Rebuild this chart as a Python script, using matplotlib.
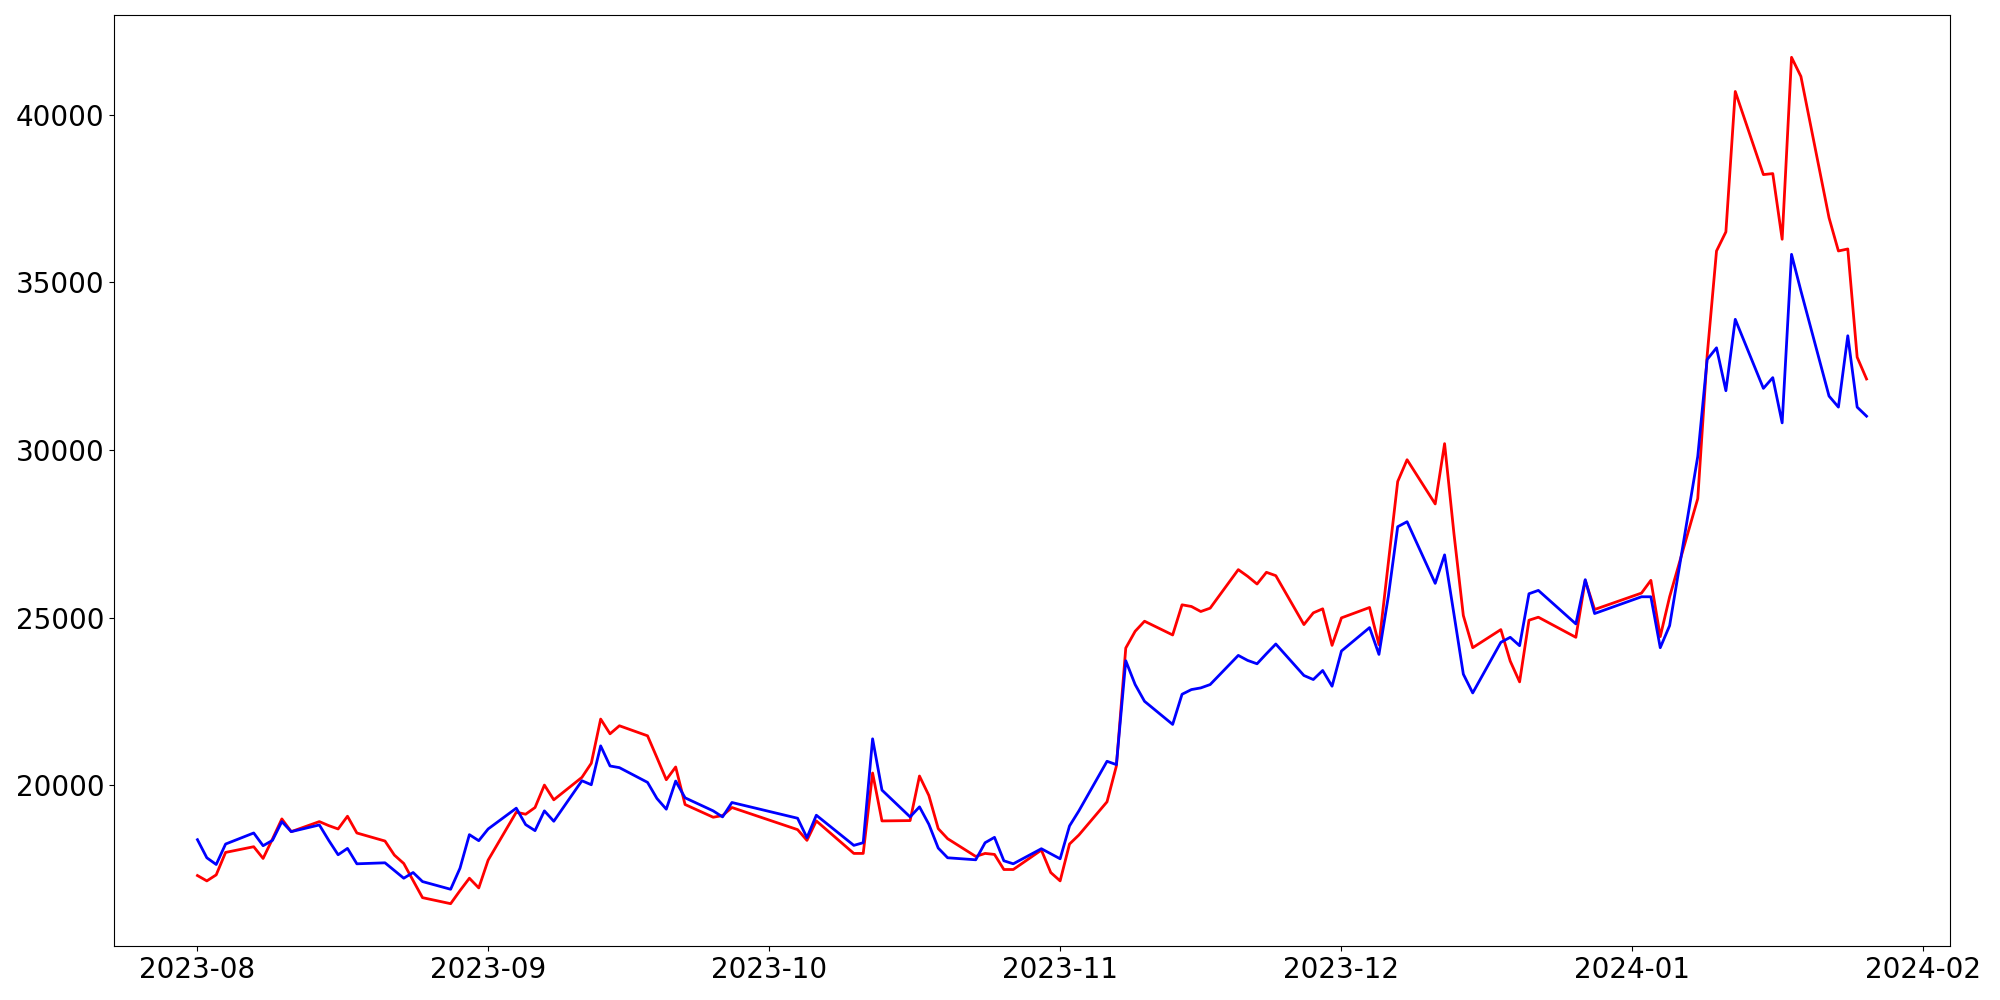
import matplotlib
matplotlib.use('Agg')
import matplotlib.pyplot as plt
import pandas as pd

# weekdays with data, same dates for both series
dates = [
    '2023-08-01', '2023-08-02', '2023-08-03', '2023-08-04',
    '2023-08-07', '2023-08-08', '2023-08-09', '2023-08-10', '2023-08-11',
    '2023-08-14', '2023-08-15', '2023-08-16', '2023-08-17', '2023-08-18',
    '2023-08-21', '2023-08-22', '2023-08-23', '2023-08-24', '2023-08-25',
    '2023-08-28', '2023-08-29', '2023-08-30', '2023-08-31', '2023-09-01',
    '2023-09-04', '2023-09-05', '2023-09-06', '2023-09-07', '2023-09-08',
    '2023-09-11', '2023-09-12', '2023-09-13', '2023-09-14', '2023-09-15',
    '2023-09-18', '2023-09-19', '2023-09-20', '2023-09-21', '2023-09-22',
    '2023-09-25', '2023-09-26', '2023-09-27',
    '2023-10-04', '2023-10-05', '2023-10-06',
    '2023-10-10', '2023-10-11', '2023-10-12', '2023-10-13',
    '2023-10-16', '2023-10-17', '2023-10-18', '2023-10-19', '2023-10-20',
    '2023-10-23', '2023-10-24', '2023-10-25', '2023-10-26', '2023-10-27',
    '2023-10-30', '2023-10-31', '2023-11-01', '2023-11-02', '2023-11-03',
    '2023-11-06', '2023-11-07', '2023-11-08', '2023-11-09', '2023-11-10',
    '2023-11-13', '2023-11-14', '2023-11-15', '2023-11-16', '2023-11-17',
    '2023-11-20', '2023-11-21', '2023-11-22', '2023-11-23', '2023-11-24',
    '2023-11-27', '2023-11-28', '2023-11-29', '2023-11-30', '2023-12-01',
    '2023-12-04', '2023-12-05', '2023-12-06', '2023-12-07', '2023-12-08',
    '2023-12-11', '2023-12-12', '2023-12-13', '2023-12-14', '2023-12-15',
    '2023-12-18', '2023-12-19', '2023-12-20', '2023-12-21', '2023-12-22',
    '2023-12-26', '2023-12-27', '2023-12-28',
    '2024-01-02', '2024-01-03', '2024-01-04', '2024-01-05',
    '2024-01-08', '2024-01-09', '2024-01-10', '2024-01-11', '2024-01-12',
    '2024-01-15', '2024-01-16', '2024-01-17', '2024-01-18', '2024-01-19',
    '2024-01-22', '2024-01-23', '2024-01-24', '2024-01-25', '2024-01-26',
]

red_values = [
    17300, 17140, 17320, 17990,
    18160, 17810, 18390, 18990, 18610,
    18910, 18790, 18690, 19070, 18570,
    18330, 17910, 17660, 17150, 16640,
    16460, 16850, 17220, 16930, 17760,
    19190, 19130, 19330, 20000, 19560,
    20230, 20650, 21970, 21530, 21770,
    21470, 20820, 20160, 20540, 19420,
    19040, 19090, 19330,
    18670, 18350, 18930,
    17960, 17960, 20360, 18930,
    18940, 20270, 19690, 18700, 18400,
    17870, 17960, 17930, 17480, 17480,
    18060, 17390, 17140, 18240, 18510,
    19500, 20570, 24090, 24590, 24890,
    24480, 25380, 25330, 25180, 25280,
    26430, 26230, 26000, 26350, 26250,
    24790, 25140, 25260, 24170, 24990,
    25300, 24190, 26630, 29060, 29710,
    28390, 30190, 27500, 25060, 24100,
    24640, 23700, 23080, 24920, 25010,
    24410, 26110, 25240,
    25730, 26110, 24430, 25620,
    28550, 32810, 35940, 36510, 40700,
    38220, 38250, 36290, 41720, 41150,
    36930, 35940, 36000, 32770, 32120,
]

blue_values = [
    18370, 17830, 17630, 18240,
    18570, 18190, 18350, 18910, 18610,
    18810, 18350, 17920, 18110, 17650,
    17680, 17450, 17220, 17390, 17120,
    16890, 17520, 18520, 18340, 18690,
    19310, 18820, 18640, 19230, 18920,
    20130, 20010, 21170, 20570, 20520,
    20080, 19600, 19280, 20120, 19620,
    19230, 19050, 19480,
    19010, 18430, 19100,
    18200, 18280, 21380, 19850,
    19050, 19350, 18830, 18120, 17830,
    17770, 18280, 18440, 17740, 17650,
    18100, 17950, 17800, 18780, 19230,
    20710, 20610, 23710, 23000, 22500,
    21810, 22710, 22850, 22900, 23000,
    23870, 23720, 23620, 23920, 24210,
    23270, 23150, 23420, 22950, 24000,
    24700, 23900, 25630, 27710, 27860,
    26020, 26870, 25100, 23310, 22750,
    24260, 24410, 24160, 25710, 25810,
    24810, 26130, 25120,
    25620, 25620, 24100, 24760,
    29810, 32700, 33050, 31770, 33900,
    31840, 32160, 30810, 35840, 34750,
    31610, 31280, 33410, 31280, 31010,
]

x = pd.to_datetime(dates)

fig, ax = plt.subplots(figsize=(20, 10), dpi=100)
ax.plot(x, red_values, color='red', linewidth=2)
ax.plot(x, blue_values, color='blue', linewidth=2)
ax.tick_params(labelsize=20)
fig.subplots_adjust(left=0.057, right=0.975, top=0.985, bottom=0.054)
fig.savefig('out.png')
